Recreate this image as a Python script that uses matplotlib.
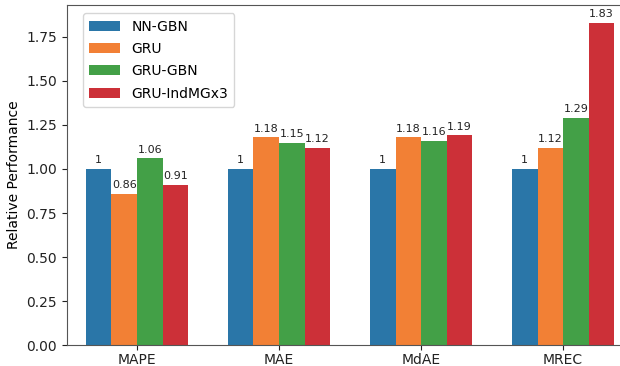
import matplotlib
matplotlib.use("Agg")
import matplotlib.pyplot as plt
import numpy as np

metrics = ["MAPE", "MAE", "MdAE", "MREC"]
models = ["NN-GBN", "GRU", "GRU-GBN", "GRU-IndMGx3"]
colors = ["#2a76a8", "#f28035", "#43a047", "#cc3038"]

nn_gbn = [1.00, 1.00, 1.00, 1.00]
gru = [0.86, 1.18, 1.18, 1.12]
gru_gbn = [1.06, 1.15, 1.16, 1.29]
gru_indmg = [0.91, 1.12, 1.19, 1.83]
series = [nn_gbn, gru, gru_gbn, gru_indmg]

plt.rcParams["font.family"] = "DejaVu Sans"
fig = plt.figure(figsize=(6.2, 3.66), dpi=100)
ax = fig.add_axes([0.108, 0.057, 0.91, 0.929])

x = np.arange(len(metrics))
width = 0.18
for i, (name, vals, c) in enumerate(zip(models, series, colors)):
    pos = x + (i - 1.5) * width
    bars = ax.bar(pos, vals, width, color=c, label=name)
    for b, v in zip(bars, vals):
        txt = "1" if v == 1 else f"{v:.2f}"
        ax.text(b.get_x() + b.get_width() / 2, v + 0.02, txt,
                ha="center", va="bottom", fontsize=8, color="#222222")

ax.set_xticks(x)
ax.set_xticklabels(metrics, fontsize=10)
ax.set_xlim(-0.493, 3.479)
ax.set_ylim(0, 1.93)
ticks = np.arange(0, 2.0, 0.25)
ax.set_yticks(ticks)
ax.set_yticklabels([f"{t:.2f}" for t in ticks], fontsize=10)
ax.set_ylabel("Relative Performance", fontsize=10)

for s in ax.spines.values():
    s.set_color("#555555")
ax.spines["right"].set_visible(False)
ax.tick_params(colors="#222222", length=3.5)
ax.tick_params(axis="x", pad=2.5)

leg = ax.legend(loc="upper left", fontsize=10, frameon=True,
                handlelength=2.2, handleheight=0.75, borderpad=0.45,
                labelspacing=0.6, handletextpad=0.85, borderaxespad=0,
                bbox_to_anchor=(0.028, 0.976))
leg.get_frame().set_edgecolor("#cccccc")

fig.savefig("out.png", dpi=100)
